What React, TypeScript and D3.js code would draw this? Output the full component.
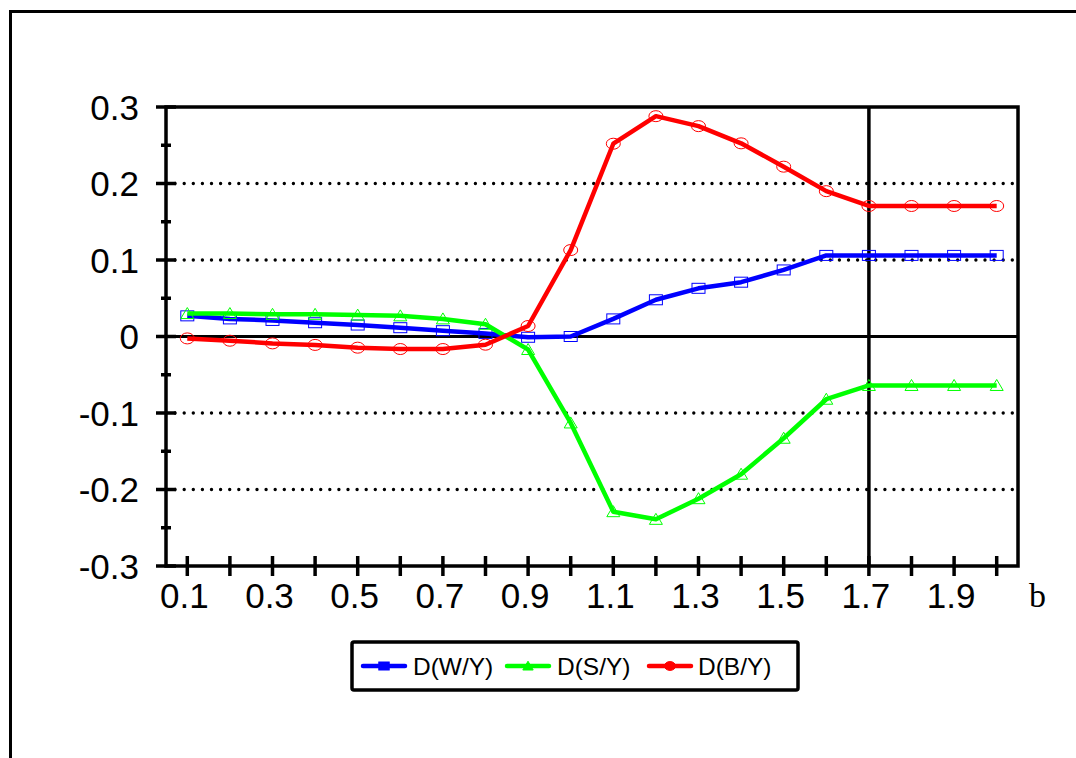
import React from "react";
import * as d3 from "d3";

const categories = ["0.1","0.2","0.3","0.4","0.5","0.6","0.7","0.8","0.9","1.0","1.1","1.2","1.3","1.4","1.5","1.6","1.7","1.8","1.9","2.0"];
const xTickLabels = ["0.1","0.3","0.5","0.7","0.9","1.1","1.3","1.5","1.7","1.9"];
const yTicks = [-0.3, -0.2, -0.1, 0, 0.1, 0.2, 0.3];
const yTickLabels = ["-0.3", "-0.2", "-0.1", "0", "0.1", "0.2", "0.3"];
const yMinorTicks = [-0.25, -0.15, -0.05, 0.05, 0.15, 0.25];
const gridValues = [-0.2, -0.1, 0.1, 0.2];

const dWY = [0.027, 0.023, 0.021, 0.018, 0.015, 0.0115, 0.0076, 0.004, -0.001, 0.0, 0.023, 0.048, 0.063, 0.071, 0.087, 0.106, 0.106, 0.106, 0.106, 0.106];
const dSY = [0.030, 0.030, 0.029, 0.029, 0.028, 0.027, 0.023, 0.016, -0.017, -0.113, -0.229, -0.239, -0.212, -0.180, -0.133, -0.082, -0.064, -0.064, -0.064, -0.064];
const dBY = [-0.0025, -0.0055, -0.009, -0.011, -0.0146, -0.0164, -0.0164, -0.0107, 0.0137, 0.113, 0.252, 0.288, 0.275, 0.2525, 0.222, 0.190, 0.1706, 0.1706, 0.1706, 0.1706];

const seriesNames = ["D(W/Y)", "D(S/Y)", "D(B/Y)"];
const seriesColors = ["#0000FF", "#00FF00", "#FF0000"];
const seriesMarkers = ["square", "triangle", "circle"];
const markerLine = "1.7";

const W = 1076, H = 758;
const left = 166, right = 1018, top = 107, bottom = 566;

function Marker({ type, x, y, color, filled, s = 1 }: any) {
  const fill = filled ? color : "none";
  const sw = 1;
  if (type === "square") {
    return <rect x={x - 6.5 * s} y={y - 5 * s} width={13 * s} height={10 * s} fill={fill} stroke={color} strokeWidth={sw} />;
  }
  if (type === "triangle") {
    const p = `${x - 6.5 * s},${y + 5 * s} ${x + 6.5 * s},${y + 5 * s} ${x},${y - 6 * s}`;
    return <polygon points={p} fill={fill} stroke={color} strokeWidth={sw} />;
  }
  return <ellipse cx={x} cy={y} rx={7 * s} ry={5.5 * s} fill={fill} stroke={color} strokeWidth={sw} />;
}

export default function App() {
  const x = d3.scalePoint<string>().domain(categories).range([left, right]).padding(0.5);
  const y = d3.scaleLinear().domain([-0.3, 0.3]).range([bottom, top]);
  const line = d3.line<number>().x((_, i) => x(categories[i])!).y((d) => y(d));
  const data = [dWY, dSY, dBY];
  const font = "'Liberation Sans', Arial, sans-serif";

  const legendX = [363, 507, 649];
  const legendTextX = [413, 557, 698];
  const legendY = 666;

  return (
    <svg width={W} height={H} style={{ position: "absolute", left: 0, top: 0, background: "#fff" }}>
      <rect x={0} y={0} width={W} height={H} fill="#fff" />
      {/* outer frame */}
      <path d={`M10.5,${H + 10} L10.5,11.5 L${W + 10},11.5`} fill="none" stroke="#000" strokeWidth={3} />

      {/* gridlines */}
      {gridValues.map((v) => (
        <line key={v} x1={left} x2={right} y1={y(v)} y2={y(v)} stroke="#000" strokeWidth={3.4} strokeDasharray="0,9.1" strokeLinecap="round" />
      ))}
      {/* zero line */}
      <line x1={left} x2={right} y1={y(0)} y2={y(0)} stroke="#000" strokeWidth={3.2} />
      {/* vertical marker line */}
      <line x1={x(markerLine)} x2={x(markerLine)} y1={top} y2={bottom} stroke="#000" strokeWidth={3.5} />

      {/* plot border */}
      <rect x={left} y={top} width={right - left} height={bottom - top} fill="none" stroke="#000" strokeWidth={3.5} />

      {/* y ticks */}
      {yTicks.map((v, i) => (
        <g key={v}>
          <line x1={156} x2={176} y1={y(v)} y2={y(v)} stroke="#000" strokeWidth={3.5} />
          <text x={139} y={y(v)} dy="0.36em" textAnchor="end" fontFamily={font} fontSize={35}>{yTickLabels[i]}</text>
        </g>
      ))}
      {yMinorTicks.map((v) => (
        <line key={v} x1={161} x2={171} y1={y(v)} y2={y(v)} stroke="#000" strokeWidth={3.5} />
      ))}

      {/* x ticks */}
      {categories.map((c) => (
        <line key={c} x1={x(c)} x2={x(c)} y1={bottom - 10} y2={bottom + 10} stroke="#000" strokeWidth={3.5} />
      ))}
      {xTickLabels.map((c) => (
        <text key={c} x={x(c)! - 3} y={608} textAnchor="middle" fontFamily={font} fontSize={35}>{c}</text>
      ))}
      <text x={1029} y={607} fontFamily="'Liberation Serif', 'Times New Roman', serif" fontSize={34}>b</text>

      {/* series */}
      {data.map((s, k) => (
        <g key={k}>
          <path d={line(s)!} fill="none" stroke={seriesColors[k]} strokeWidth={4.5} strokeLinejoin="round" />
          {s.map((v, i) => (
            <Marker key={i} type={seriesMarkers[k]} x={x(categories[i])} y={y(v)} color={seriesColors[k]} filled={false} />
          ))}
        </g>
      ))}

      {/* legend */}
      <rect x={352} y={642} width={446} height={48} rx={2} fill="#fff" stroke="#000" strokeWidth={3.5} />
      {seriesNames.map((n, k) => (
        <g key={n}>
          <line x1={legendX[k]} x2={legendX[k] + 42} y1={legendY} y2={legendY} stroke={seriesColors[k]} strokeWidth={4.5} strokeLinecap="round" />
          <Marker type={seriesMarkers[k]} x={legendX[k] + 21} y={legendY} color={seriesColors[k]} filled={true} s={0.8} />
          <text x={legendTextX[k]} y={legendY} dy="0.36em" fontFamily={font} fontSize={24.5}>{n}</text>
        </g>
      ))}
    </svg>
  );
}
